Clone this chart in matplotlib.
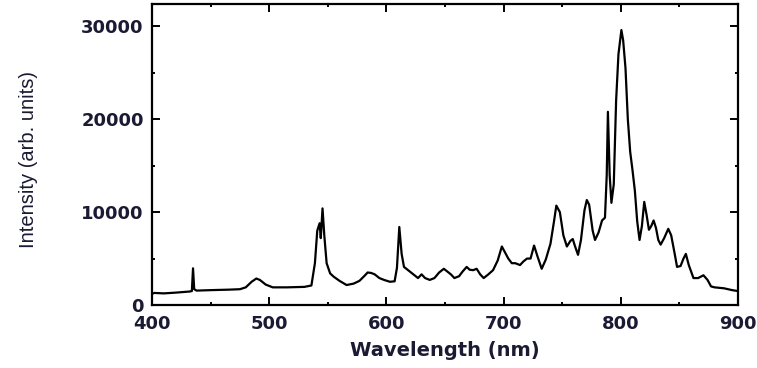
import matplotlib
matplotlib.use("Agg")
import matplotlib.pyplot as plt
from matplotlib.ticker import MultipleLocator

# Spectrum (wavelength in nm, intensity in arb. units)
wavelength = [
    400, 402, 410, 420, 432, 434, 435, 436, 438, 450, 465, 475, 480, 485,
    489, 492, 497, 503, 515, 530, 536, 539, 541, 543, 544, 545.5, 547, 549,
    552, 555, 560, 566, 572, 577, 581, 584, 587, 590, 594, 598, 603, 607,
    609, 611, 613, 615, 618, 621, 624, 627, 630, 633, 637, 641, 645, 649,
    652, 655, 658, 662, 665, 668.5, 671, 674, 677, 680, 683, 687, 691, 695,
    698.5, 701, 704, 707, 710, 714, 717, 720, 723, 726, 729, 732.5, 736, 740,
    743, 745, 748, 751, 754, 757, 759, 761, 763.5, 766, 769, 771, 773, 776,
    778, 781, 784, 786.5, 788, 789, 790.5, 792, 794, 796, 798, 800.5, 802,
    804, 806, 808, 810, 812, 814, 816, 818, 820, 822, 824, 826, 828, 830,
    832, 834, 837, 840.5, 843, 846, 848, 851, 853.5, 855.5, 858, 862, 866,
    870.5, 874, 877, 880, 888, 895, 900,
]
intensity = [
    1200, 1300, 1250, 1330, 1450, 1500, 3950, 1700, 1550, 1600, 1650, 1700,
    1900, 2500, 2850, 2700, 2200, 1900, 1900, 1950, 2100, 4500, 8000, 8800,
    7200, 10400, 7500, 4500, 3400, 3050, 2600, 2150, 2300, 2600, 3100, 3500,
    3450, 3300, 2900, 2700, 2500, 2550, 4000, 8400, 5500, 4100, 3800, 3500,
    3200, 2900, 3300, 2900, 2700, 2900, 3500, 3900, 3600, 3300, 2900, 3100,
    3600, 4100, 3800, 3750, 3900, 3300, 2900, 3300, 3750, 4800, 6300, 5700,
    5000, 4500, 4500, 4300, 4700, 5000, 5000, 6400, 5200, 3900, 4900, 6600,
    9000, 10700, 10000, 7500, 6300, 6900, 7100, 6300, 5400, 7000, 10200,
    11300, 10800, 8000, 7000, 7800, 9100, 9400, 14000, 20800, 14000, 11000,
    13000, 22000, 27000, 29600, 28500, 25500, 20000, 16500, 14500, 12300,
    9000, 7000, 8500, 11100, 9700, 8100, 8500, 9100, 8300, 7000, 6500, 7200,
    8200, 7500, 5500, 4100, 4200, 5000, 5500, 4300, 2900, 2900, 3200, 2700,
    2000, 1900, 1800, 1600, 1500,
]

text_color = "#1a1a33"

fig = plt.figure(figsize=(7.57, 3.68), dpi=100)
ax = fig.add_axes([0.2008, 0.1712, 0.7741, 0.8178])

ax.plot(wavelength, intensity, color="black", lw=1.6)

ax.set_xlim(400, 900)
ax.set_ylim(0, 32400)

# ticks: inward on all four sides
ax.xaxis.set_major_locator(MultipleLocator(100))
ax.xaxis.set_minor_locator(MultipleLocator(50))
ax.yaxis.set_major_locator(MultipleLocator(10000))
ax.yaxis.set_minor_locator(MultipleLocator(5000))
ax.tick_params(which="both", direction="in", top=True, right=True,
               width=1.4, colors="black", labelcolor=text_color)
ax.tick_params(which="major", length=5.5, labelsize=13)
ax.tick_params(axis="x", which="major", pad=7.5)
ax.tick_params(axis="y", which="major", pad=6)
ax.tick_params(which="minor", length=2.5)
for lbl in ax.get_xticklabels() + ax.get_yticklabels():
    lbl.set_fontweight("bold")

for sp in ax.spines.values():
    sp.set_linewidth(1.6)

ax.set_xlabel("Wavelength (nm)", fontsize=14, fontweight="bold",
              color=text_color, va="top")
ax.xaxis.set_label_coords(0.5, -0.12)
ax.set_ylabel("Intensity (arb. units)", fontsize=14.5,
              family="Liberation Sans", color=text_color)
ax.yaxis.set_label_coords(-0.195, 0.485)

fig.savefig("out.png", dpi=100)
